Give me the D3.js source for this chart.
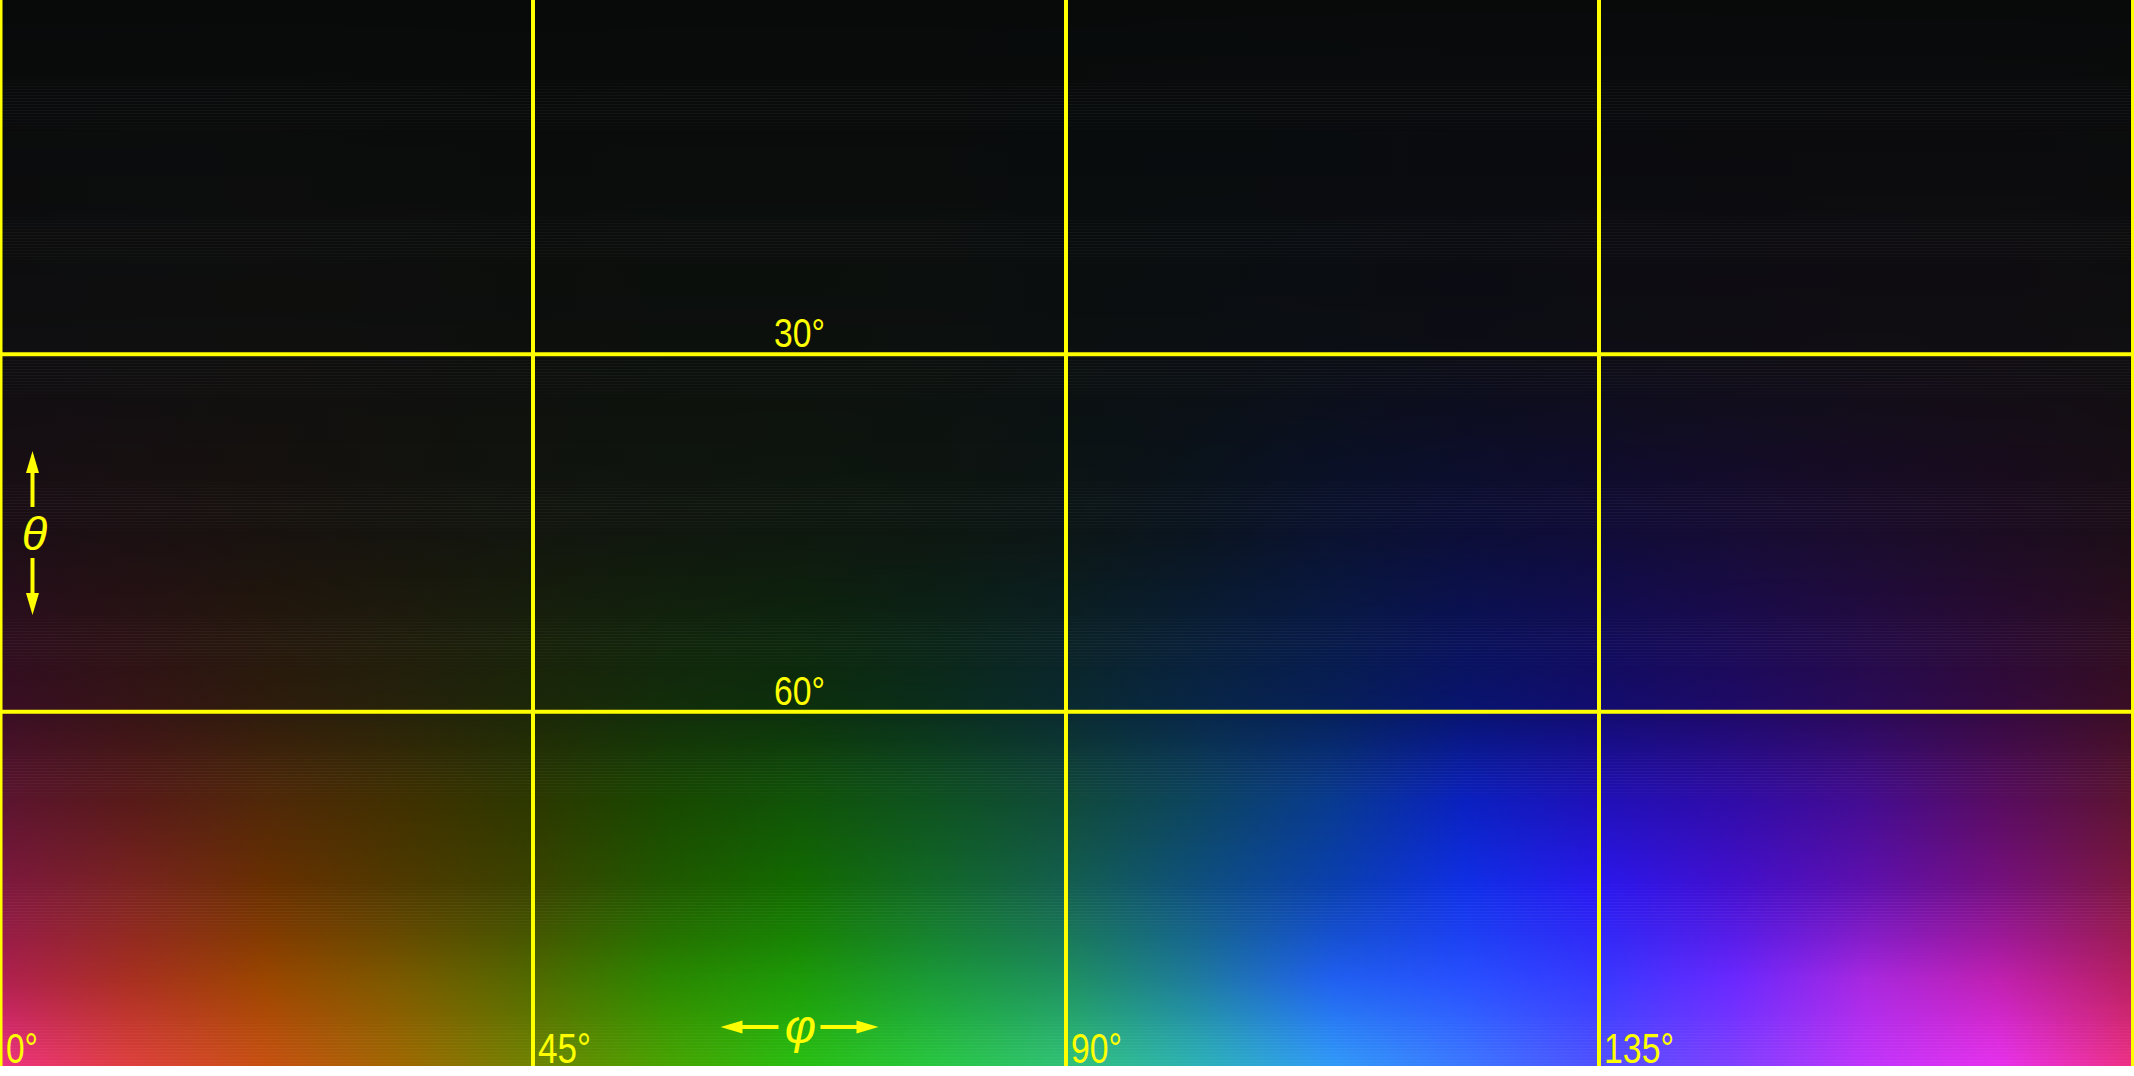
<!DOCTYPE html>
<html>
<head>
<meta charset="utf-8">
<script src="https://cdn.jsdelivr.net/npm/d3@7"></script>
<style>
html,body{margin:0;padding:0;background:#fff;}
svg{display:block;}
</style>
</head>
<body>
<svg id="chart" width="2134" height="1076"></svg>
<script>
// ---- data ----
const phiStops = [0, 11.25, 22.5, 33.75, 45, 56.25, 67.5, 78.75, 90, 101.25, 112.5, 123.75, 135, 146.25, 157.5, 168.75, 180];
const thetaStops = [0, 30, 45, 60, 67.5, 75, 82.5, 90];
const colorsTheta0  = ["#080a0a","#080a0a","#080a0a","#080a0a","#080a0a","#080a0a","#080a0a","#080a0a","#080a0a","#080a0a","#080a0a","#080a0a","#080a0a","#080a0a","#080a0a","#080a0a","#080a0a"];
const colorsTheta30 = ["#0f0e10","#0f0f10","#0f0f0e","#0e0f0e","#0d0f0d","#0c100d","#0c100d","#0c100e","#0b0f10","#0b0f12","#0b0e14","#0c0d15","#0e0d15","#0f0d14","#100d13","#100d12","#0f0e10"];
const colorsTheta45 = ["#1c0e16","#1b1012","#18120e","#15140e","#12160e","#10170e","#0e180e","#0d1711","#0c1616","#0a1420","#0a1230","#0c0e38","#100c38","#160c34","#1a0c2c","#1c0c22","#1c0e18"];
const colorsTheta60 = ["#3a0e24","#361416","#2e1c0c","#26220a","#1c2808","#122e0a","#0c300c","#0a2e1c","#0a2a30","#082648","#06205a","#081470","#120c70","#1e0a68","#2a0a58","#340a40","#3a0e24"];
const colorsTheta67 = ["#5c1430","#581a18","#502808","#403000","#2c3800","#184800","#105408","#0e5220","#104a3a","#0c4460","#083a90","#0a20c0","#2010b8","#300ca8","#440c90","#580c60","#5c1430"];
const colorsTheta75 = ["#801840","#7c2420","#6a3000","#503a00","#3a4400","#205a00","#126c00","#126a28","#146050","#0e5080","#0a40b0","#1030e8","#2a18f0","#4410d0","#6010b0","#781080","#801840"];
const colorsTheta82 = ["#b02050","#a83020","#9a4600","#7a5a00","#506a00","#2a8800","#1c9a08","#1a9a38","#1e9060","#1e7aa0","#2060f0","#2850ff","#3838ff","#6a28ff","#a828e0","#c020b0","#b82060"];
const colorsTheta90 = ["#f03084","#e0403c","#c85010","#a06800","#708400","#48a400","#28c010","#28c840","#30c478","#2cb4b8","#309cf8","#3c78ff","#5050ff","#8040ff","#c034fc","#e830f0","#f03084"];
const phiTicks = [0, 45, 90, 135];
const thetaTicks = [30, 60];
const phiLabelAt = 67.5;   // theta tick labels and phi axis label sit over this phi
const thetaLabelAt = 45;   // theta axis label sits at this theta

// ---- layout ----
const W = 2132, H = 1066;
const svg = d3.select("#chart");
const x = d3.scaleLinear().domain([0, 180]).range([0, W]);
const y = d3.scaleLinear().domain([0, 90]).range([-3, 1069]);
const yellow = "#ffff00";

const table = [colorsTheta0, colorsTheta30, colorsTheta45, colorsTheta60, colorsTheta67, colorsTheta75, colorsTheta82, colorsTheta90];
const colScales = phiStops.map((p, j) =>
  d3.scaleLinear().domain(thetaStops).range(table.map(r => r[j])).interpolate(d3.interpolateRgb).clamp(true));

svg.append("defs").append("clipPath").attr("id", "plotClip")
  .append("rect").attr("x", 0).attr("y", 0).attr("width", W).attr("height", H);

const defs = svg.select("defs");
const step = 0.25;
const rows = d3.range(0, 90, step);
rows.forEach((t, i) => {
  const g = defs.append("linearGradient").attr("id", "rg" + i)
    .attr("gradientUnits", "userSpaceOnUse")
    .attr("x1", x(0)).attr("x2", x(180)).attr("y1", 0).attr("y2", 0);
  phiStops.forEach((p, j) => {
    g.append("stop").attr("offset", (x(p) - x(0)) / (x(180) - x(0)))
      .attr("stop-color", colScales[j](t + step / 2));
  });
});

const plot = svg.append("g").attr("clip-path", "url(#plotClip)");
plot.selectAll("rect.row").data(rows).join("rect").attr("class", "row")
  .attr("x", x(0)).attr("width", x(180) - x(0))
  .attr("y", d => y(d))
  .attr("height", d => y(d + step) - y(d) + 0.6)
  .attr("fill", (d, i) => "url(#rg" + i + ")");

// grid lines
plot.selectAll("line.v").data(phiTicks.filter(d => d > 0)).join("line").attr("class", "v")
  .attr("x1", d => x(d)).attr("x2", d => x(d)).attr("y1", 0).attr("y2", H)
  .attr("stroke", yellow).attr("stroke-width", 4);
plot.selectAll("line.h").data(thetaTicks).join("line").attr("class", "h")
  .attr("x1", 0).attr("x2", W).attr("y1", d => y(d)).attr("y2", d => y(d))
  .attr("stroke", yellow).attr("stroke-width", 4);
// side borders
plot.append("line").attr("x1", 0).attr("x2", 0).attr("y1", 0).attr("y2", H)
  .attr("stroke", yellow).attr("stroke-width", 5);
svg.append("line").attr("x1", W + 0.5).attr("x2", W + 0.5).attr("y1", 0).attr("y2", H)
  .attr("stroke", yellow).attr("stroke-width", 3);

const font = "'Liberation Sans Narrow','Arial Narrow','Liberation Sans',Arial,sans-serif";
const widths = {"0°": 32, "45°": 53, "90°": 51, "135°": 70, "30°": 51, "60°": 51};

// theta tick labels
svg.selectAll("text.tt").data(thetaTicks).join("text").attr("class", "tt")
  .attr("x", x(phiLabelAt)).attr("y", d => y(d) - 7)
  .attr("text-anchor", "middle")
  .attr("font-family", font).attr("font-size", 41).attr("fill", yellow)
  .attr("textLength", d => widths[d + "°"]).attr("lengthAdjust", "spacingAndGlyphs")
  .text(d => d + "°");

// phi tick labels
svg.selectAll("text.pt").data(phiTicks).join("text").attr("class", "pt")
  .attr("x", d => x(d) + (d === 0 ? 6 : 5)).attr("y", 1063)
  .attr("font-family", font).attr("font-size", 43).attr("fill", yellow)
  .attr("textLength", d => widths[d + "°"]).attr("lengthAdjust", "spacingAndGlyphs")
  .text(d => d + "°");

// phi axis label with arrows
const pcx = x(phiLabelAt), pcy = 1027;
svg.append("text").attr("x", pcx + 1).attr("y", 1043).attr("text-anchor", "middle")
  .attr("font-family", "'Liberation Sans',Arial,sans-serif").attr("font-style", "italic")
  .attr("font-size", 48).attr("fill", yellow).text("φ");
function arrow(x1, y1, x2, y2) {
  // shaft from (x1,y1) toward tip (x2,y2)
  const len = Math.hypot(x2 - x1, y2 - y1), ux = (x2 - x1) / len, uy = (y2 - y1) / len;
  const hl = 22, hw = 6.5;
  const bx = x2 - ux * hl, by = y2 - uy * hl;
  svg.append("line").attr("x1", x1).attr("y1", y1).attr("x2", bx + ux).attr("y2", by + uy)
    .attr("stroke", yellow).attr("stroke-width", 4);
  svg.append("path").attr("d", `M${x2},${y2}L${bx - uy * hw},${by + ux * hw}L${bx + uy * hw},${by - ux * hw}Z`)
    .attr("fill", yellow);
}
arrow(pcx - 21, pcy, pcx - 79, pcy);
arrow(pcx + 21, pcy, pcx + 79, pcy);

// theta axis label with arrows
const tcx = 32.5, tcy = y(thetaLabelAt);
svg.append("text").attr("x", tcx + 2).attr("y", tcy + 17).attr("text-anchor", "middle")
  .attr("font-family", "'Liberation Sans',Arial,sans-serif").attr("font-style", "italic")
  .attr("font-size", 47).attr("fill", yellow).text("θ");
arrow(tcx, tcy - 26, tcx, tcy - 82);
arrow(tcx, tcy + 25, tcx, tcy + 82);
</script>
</body>
</html>
